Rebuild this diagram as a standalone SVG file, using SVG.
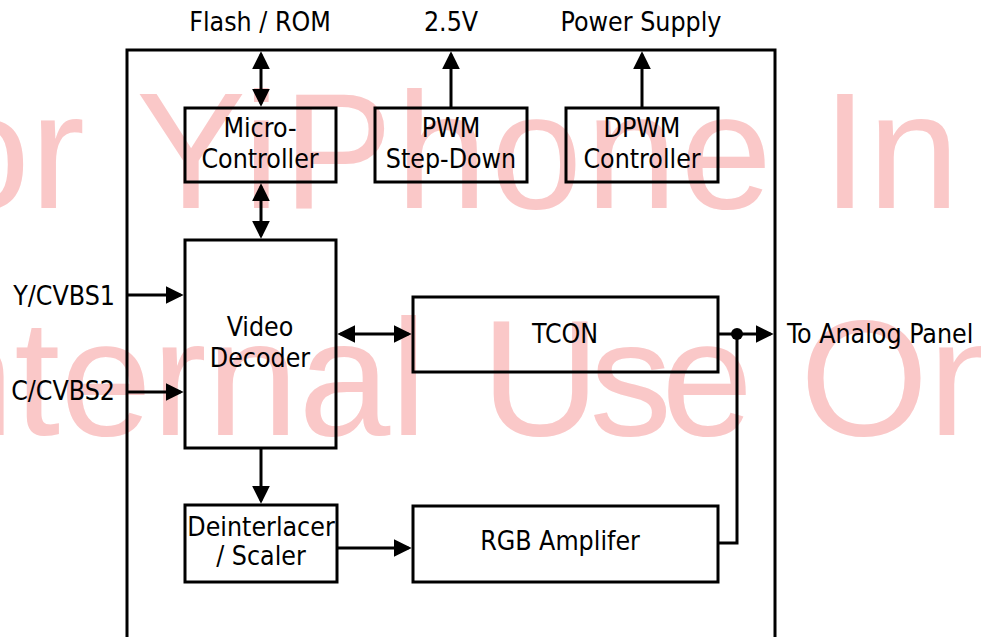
<svg xmlns="http://www.w3.org/2000/svg" width="981" height="637" viewBox="0 0 981 637">
<style>
.box{fill:none;stroke:#000;stroke-width:3}
.ln{fill:none;stroke:#000;stroke-width:3}
.t{font-family:"DejaVu Sans Condensed","Liberation Sans",sans-serif;font-stretch:condensed;font-size:26.5px;fill:#000}
.c{text-anchor:middle}
.wm{font-family:"Liberation Sans",Arial,sans-serif;font-size:165px;fill:#fac8c8}
</style>
<defs>
<marker id="ah" markerUnits="userSpaceOnUse" markerWidth="18" markerHeight="18" viewBox="0 0 17 17" refX="14" refY="8.5" orient="auto-start-reverse">
<path d="M0,0 L17,8.5 L0,17 z" fill="#000"/>
</marker>
</defs>
<rect width="981" height="637" fill="#fff"/>
<g id="watermark">
<text class="wm" x="85" y="208" text-anchor="end">For</text>
<text class="wm" x="136" y="208" textLength="636" lengthAdjust="spacing">YiPhone</text>
<text class="wm" x="822" y="208">In</text>
<text class="wm" x="427" y="435" text-anchor="end">Internal</text>
<text class="wm" x="481" y="435" textLength="272" lengthAdjust="spacing">Use</text>
<text class="wm" x="800" y="435">On</text>
</g>
<g id="chip"><rect class="box" x="127" y="50" width="648" height="620"/></g>
<g id="micro"><rect class="box" x="185" y="108" width="151" height="74"/>
<text class="t c" x="260" y="137">Micro-</text><text class="t c" x="260" y="168">Controller</text></g>
<g id="pwm"><rect class="box" x="375" y="108" width="152" height="74"/>
<text class="t c" x="451" y="137">PWM</text><text class="t c" x="451" y="168">Step-Down</text></g>
<g id="dpwm"><rect class="box" x="566" y="108" width="152" height="74"/>
<text class="t c" x="642" y="137">DPWM</text><text class="t c" x="642" y="168">Controller</text></g>
<g id="decoder"><rect class="box" x="185" y="240" width="151" height="208"/>
<text class="t c" x="260" y="336">Video</text><text class="t c" x="260" y="367">Decoder</text></g>
<g id="tcon"><rect class="box" x="413" y="297" width="305" height="75"/>
<text class="t c" x="565" y="343">TCON</text></g>
<g id="deint"><rect class="box" x="185" y="505" width="152" height="77"/>
<text class="t c" x="261" y="536">Deinterlacer</text><text class="t c" x="261" y="565">/ Scaler</text></g>
<g id="rgb"><rect class="box" x="413" y="506" width="305" height="76"/>
<text class="t c" x="560" y="550">RGB Amplifer</text></g>
<g id="labels">
<text class="t c" x="260" y="31">Flash / ROM</text>
<text class="t c" x="451" y="31">2.5V</text>
<text class="t c" x="641" y="31">Power Supply</text>
<text class="t" x="115" y="305" text-anchor="end">Y/CVBS1</text>
<text class="t" x="115" y="400" text-anchor="end">C/CVBS2</text>
<text class="t" x="787" y="343">To Analog Panel</text>
</g>
<g id="connectors">
<line class="ln" x1="261" y1="54.5" x2="261" y2="103.5" marker-start="url(#ah)" marker-end="url(#ah)"/>
<line class="ln" x1="261" y1="186.5" x2="261" y2="235.5" marker-start="url(#ah)" marker-end="url(#ah)"/>
<line class="ln" x1="451" y1="107" x2="451" y2="54.5" marker-end="url(#ah)"/>
<line class="ln" x1="642" y1="107" x2="642" y2="54.5" marker-end="url(#ah)"/>
<line class="ln" x1="127" y1="295" x2="180.5" y2="295" marker-end="url(#ah)"/>
<line class="ln" x1="127" y1="392" x2="180.5" y2="392" marker-end="url(#ah)"/>
<line class="ln" x1="340.5" y1="334" x2="408.5" y2="334" marker-start="url(#ah)" marker-end="url(#ah)"/>
<line class="ln" x1="261" y1="448" x2="261" y2="500.5" marker-end="url(#ah)"/>
<line class="ln" x1="337" y1="548" x2="408.5" y2="548" marker-end="url(#ah)"/>
<line class="ln" x1="718" y1="334" x2="770.5" y2="334" marker-end="url(#ah)"/>
<polyline class="ln" points="718,543 737,543 737,334"/>
<circle cx="737" cy="334" r="6" fill="#000"/>
</g>
</svg>
